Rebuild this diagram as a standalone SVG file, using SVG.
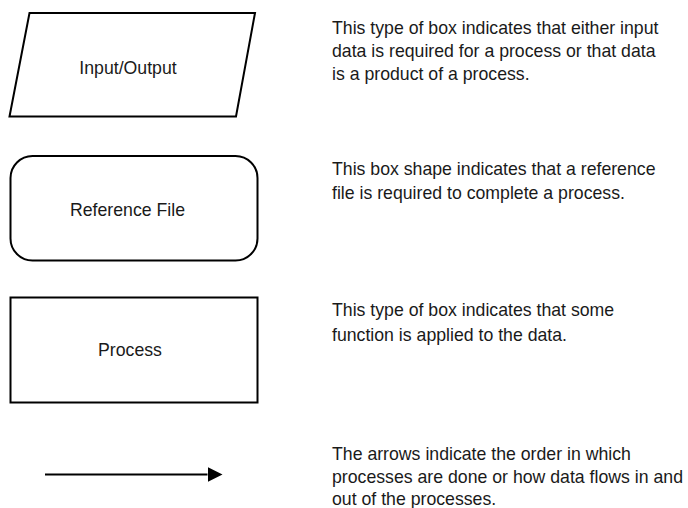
<svg xmlns="http://www.w3.org/2000/svg" width="688" height="508" viewBox="0 0 688 508">
  <style>
    .shape { fill: #ffffff; stroke: #000000; stroke-width: 2; }
    .label { font-family: "Liberation Sans", Arial, sans-serif; font-size: 17.7px; fill: #1a1a1a; text-anchor: middle; }
    .desc { font-family: "Liberation Sans", Arial, sans-serif; font-size: 17.7px; fill: #1a1a1a; }
    .flow { stroke: #000000; stroke-width: 2; fill: none; }
  </style>
  <defs>
    <marker id="arrowhead" markerWidth="15" markerHeight="15" refX="0" refY="7.5" orient="auto" markerUnits="userSpaceOnUse">
      <polygon points="0,0 15,7.5 0,15" fill="#000000"/>
    </marker>
  </defs>
  <rect width="688" height="508" fill="#ffffff"/>

  <!-- Input / Output symbol -->
  <g id="input-output">
    <polygon class="shape" points="29.5,13 255,13 236,116.5 9.5,116.5"/>
    <text class="label" x="128" y="74">Input/Output</text>
  </g>
  <g id="input-output-note">
    <text class="desc" x="332" y="33.5">
      <tspan x="332">This type of box indicates that either input</tspan>
      <tspan x="332" dy="23">data is required for a process or that data</tspan>
      <tspan x="332" dy="23">is a product of a process.</tspan>
    </text>
  </g>

  <!-- Reference file symbol -->
  <g id="reference-file">
    <rect class="shape" x="10.5" y="156" width="247" height="104.5" rx="22" ry="22"/>
    <text class="label" x="127.5" y="216">Reference File</text>
  </g>
  <g id="reference-file-note">
    <text class="desc" x="332" y="174.5">
      <tspan x="332">This box shape indicates that a reference</tspan>
      <tspan x="332" dy="24">file is required to complete a process.</tspan>
    </text>
  </g>

  <!-- Process symbol -->
  <g id="process">
    <rect class="shape" x="10.5" y="297.5" width="247" height="105"/>
    <text class="label" x="130" y="356">Process</text>
  </g>
  <g id="process-note">
    <text class="desc" x="332" y="316">
      <tspan x="332">This type of box indicates that some</tspan>
      <tspan x="332" dy="24.5">function is applied to the data.</tspan>
    </text>
  </g>

  <!-- Flow arrow symbol -->
  <g id="connectors">
    <line class="flow" x1="45" y1="474.5" x2="207.5" y2="474.5" marker-end="url(#arrowhead)"/>
  </g>
  <g id="arrow-note">
    <text class="desc" x="332" y="459.5">
      <tspan x="332">The arrows indicate the order in which</tspan>
      <tspan x="332" dy="23">processes are done or how data flows in and</tspan>
      <tspan x="332" dy="22.5">out of the processes.</tspan>
    </text>
  </g>
</svg>
